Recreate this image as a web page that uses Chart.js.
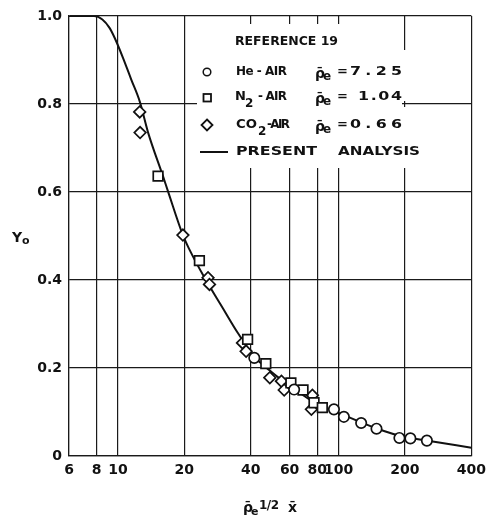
<!DOCTYPE html>
<html><head><meta charset="utf-8">
<script src="https://cdn.jsdelivr.net/npm/chart.js@4/dist/chart.umd.min.js"></script>
<style>html,body{margin:0;padding:0;background:#fff;} canvas{display:block;}</style>
</head><body>
<canvas id="c" width="492" height="516" style="width:492px;height:516px"></canvas>
<script>
// ---- axis ticks ----
const xTicks = [6, 8, 10, 20, 40, 60, 80, 100, 200, 400];
const xTickLabels = ['6', '8', '10', '20', '40', '60', '80', '100', '200', '400'];
const yTicks = [0, 0.2, 0.4, 0.6, 0.8, 1.0];
const yTickLabels = ['0', '0.2', '0.4', '0.6', '0.8', '1.0'];

// ---- He - AIR (circles) ----
const heX = [41.5, 62.9, 95.3, 105.7, 126.6, 148.6, 188.7, 211.6, 251.4];
const heY = [0.223, 0.151, 0.106, 0.089, 0.075, 0.062, 0.041, 0.040, 0.035];

// ---- N2 - AIR (squares) ----
const n2X = [15.2, 23.4, 38.7, 46.8, 60.8, 69.0, 77.4, 84.4];
const n2Y = [0.636, 0.444, 0.265, 0.210, 0.166, 0.150, 0.121, 0.110];

// ---- CO2 - AIR (diamonds) ----
const co2X = [12.55, 12.6, 19.7, 25.6, 26.0, 36.7, 38.1, 48.8, 55.1, 56.7, 76.1, 75.3];
const co2Y = [0.782, 0.735, 0.502, 0.405, 0.390, 0.257, 0.238, 0.178, 0.170, 0.150, 0.138, 0.106];

// ---- present analysis (curve) ----
const curveX = [6, 7.8, 8.5, 9.16, 9.67, 10.54, 11.48, 12.55, 13.7, 16.0, 16.85, 19.7, 21.1, 24.7, 29.8, 34.9, 41.5, 50, 60, 80, 100, 150, 200, 250, 400];
const curveY = [1.0, 1.0, 0.992, 0.973, 0.95, 0.905, 0.856, 0.806, 0.735, 0.636, 0.602, 0.502, 0.469, 0.405, 0.337, 0.28, 0.226, 0.19, 0.16, 0.118, 0.098, 0.062, 0.043, 0.035, 0.019];

const pts = (xs, ys) => xs.map((x, i) => ({x: x, y: ys[i]}));

const FONT = '"DejaVu Sans", sans-serif';

// draw text spanning a given width: horizontal stretch plus letter spacing
function fitText(ctx, str, x, y, w, align) {
  ctx.letterSpacing = '0px';
  const m = ctx.measureText(str).width;
  let sx = w / m;
  sx = Math.max(0.92, Math.min(1.22, sx));
  const rest = (w - m * sx) / sx;
  const ls = str.length > 1 ? rest / (str.length - 1) : 0;
  ctx.save();
  ctx.translate(align === 'right' ? x - w : x, y);
  ctx.scale(sx, 1);
  ctx.textAlign = 'left';
  ctx.letterSpacing = ls.toFixed(2) + 'px';
  ctx.fillText(str, 0, 0);
  ctx.restore();
  ctx.letterSpacing = '0px';
}

function rhoE(ctx, x, y) {
  ctx.font = 'bold 14px ' + FONT;
  ctx.textAlign = 'left';
  ctx.fillText('\u03C1\u0304', x, y + 2);
  ctx.font = 'bold 12px ' + FONT;
  ctx.fillText('e', x + 8, y + 5);
}

const overlay = {
  id: 'overlay',
  beforeDatasetsDraw(chart) {
    const ctx = chart.ctx;
    ctx.save();
    ctx.fillStyle = '#fff';
    ctx.fillRect(197, 24, 205, 144);
    ctx.fillRect(402, 50, 22, 51);
    ctx.fillRect(402, 107, 22, 61);
    ctx.restore();
  },
  afterDraw(chart) {
    const ctx = chart.ctx;
    ctx.save();
    ctx.fillStyle = '#111';
    ctx.strokeStyle = '#111';
    ctx.textBaseline = 'middle';
    ctx.font = 'bold 13px ' + FONT;
    fitText(ctx, 'REFERENCE 19', 235, 42, 103);

    // row 1: He
    ctx.lineWidth = 1.5;
    ctx.beginPath(); ctx.arc(207, 72, 3.8, 0, Math.PI * 2); ctx.stroke();
    ctx.font = 'bold 13px ' + FONT;
    fitText(ctx, 'He - AIR', 236, 72, 51);
    rhoE(ctx, 315, 72);
    ctx.font = 'bold 13px ' + FONT;
    ctx.fillText('=', 337, 72);
    fitText(ctx, '7.25', 402, 72, 52, 'right');

    // row 2: N2
    ctx.lineWidth = 1.8;
    ctx.strokeRect(203.5, 94, 7.5, 7.5);
    ctx.font = 'bold 13px ' + FONT;
    ctx.fillText('N', 235, 97);
    ctx.font = 'bold 12px ' + FONT;
    ctx.fillText('2', 245, 104);
    ctx.font = 'bold 13px ' + FONT;
    fitText(ctx, '- AIR', 258, 97, 29);
    rhoE(ctx, 315, 97);
    ctx.font = 'bold 13px ' + FONT;
    ctx.fillText('=', 337, 97);
    fitText(ctx, '1.04', 402, 97, 44, 'right');

    // row 3: CO2
    ctx.lineWidth = 1.8;
    ctx.beginPath();
    ctx.moveTo(207, 119.5); ctx.lineTo(212.5, 125); ctx.lineTo(207, 130.5); ctx.lineTo(201.5, 125); ctx.closePath();
    ctx.stroke();
    ctx.font = 'bold 13px ' + FONT;
    fitText(ctx, 'CO', 236, 125, 21);
    ctx.font = 'bold 12px ' + FONT;
    ctx.fillText('2', 258, 132);
    ctx.font = 'bold 13px ' + FONT;
    fitText(ctx, '-AIR', 267, 125, 23);
    rhoE(ctx, 315, 125);
    ctx.font = 'bold 13px ' + FONT;
    ctx.fillText('=', 337, 125);
    fitText(ctx, '0.66', 402, 125, 52, 'right');

    // row 4: line
    ctx.lineWidth = 2;
    ctx.beginPath(); ctx.moveTo(200, 152); ctx.lineTo(228, 152); ctx.stroke();
    ctx.font = 'bold 13px ' + FONT;
    fitText(ctx, 'PRESENT', 236, 152, 81);
    fitText(ctx, 'ANALYSIS', 338, 152, 82);

    // y axis title
    ctx.textBaseline = 'alphabetic';
    ctx.font = 'bold 14px ' + FONT;
    ctx.fillText('Y', 12, 242);
    ctx.font = 'bold 11px ' + FONT;
    ctx.fillText('o', 22, 244);

    // x axis title
    ctx.font = 'bold 14px ' + FONT;
    ctx.fillText('\u03C1\u0304', 243, 512);
    ctx.font = 'bold 11px ' + FONT;
    ctx.fillText('e', 251, 515);
    ctx.font = 'bold 13px ' + FONT;
    fitText(ctx, '1/2', 259, 509, 20);
    ctx.font = 'bold 14px ' + FONT;
    ctx.fillText('x\u0304', 288, 512);
    ctx.restore();
  }
};

const markerCommon = {
  pointBackgroundColor: '#fff',
  pointBorderColor: '#111',
  pointBorderWidth: 1.7,
  showLine: false,
  order: 0
};

new Chart(document.getElementById('c'), {
  type: 'scatter',
  data: {
    datasets: [
      Object.assign({label: 'He - AIR', data: pts(heX, heY), pointStyle: 'circle', pointRadius: 5.2}, markerCommon),
      Object.assign({label: 'N2 - AIR', data: pts(n2X, n2Y), pointStyle: 'rect', pointRadius: 6.8}, markerCommon),
      Object.assign({label: 'CO2-AIR', data: pts(co2X, co2Y), pointStyle: 'rectRot', pointRadius: 5.8}, markerCommon),
      {
        label: 'PRESENT ANALYSIS', data: pts(curveX, curveY), showLine: true,
        borderColor: '#111', borderWidth: 2, pointRadius: 0,
        cubicInterpolationMode: 'monotone', order: 5
      }
    ]
  },
  options: {
    responsive: false,
    animation: false,
    devicePixelRatio: 1,
    layout: {padding: {top: 16, right: 19, left: 0, bottom: 0}},
    plugins: {legend: {display: false}, tooltip: {enabled: false}},
    scales: {
      x: {
        type: 'logarithmic', min: 6, max: 400,
        afterBuildTicks: (s) => { s.ticks = xTicks.map(v => ({value: v})); },
        afterFit: (s) => { s.height = 60; },
        ticks: {
          autoSkip: false, maxRotation: 0, padding: 6, color: '#111',
          font: {family: FONT, size: 14, weight: 'bold'},
          callback: (v, i) => xTickLabels[i]
        },
        grid: {color: '#1a1a1a', lineWidth: 1.2, drawTicks: false},
        border: {color: '#1a1a1a', width: 1.2}
      },
      y: {
        type: 'linear', min: 0, max: 1,
        afterBuildTicks: (s) => { s.ticks = yTicks.map(v => ({value: v})); },
        afterFit: (s) => { s.width = 69; },
        ticks: {
          padding: 7, color: '#111',
          font: {family: FONT, size: 14, weight: 'bold'},
          callback: (v, i) => yTickLabels[i]
        },
        grid: {color: '#1a1a1a', lineWidth: 1.2, drawTicks: false},
        border: {color: '#1a1a1a', width: 1.2}
      }
    }
  },
  plugins: [overlay]
});
</script></body></html>
